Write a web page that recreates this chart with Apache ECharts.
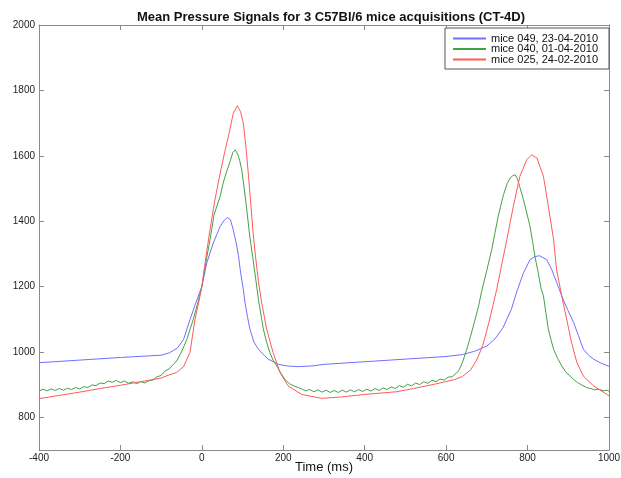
<!DOCTYPE html>
<html>
<head>
<meta charset="utf-8">
<script src="https://cdn.jsdelivr.net/npm/echarts@6/dist/echarts.min.js"></script>
<style>
html,body{margin:0;padding:0;background:#fff;}
#chart{width:621px;height:478px;}
</style>
</head>
<body>
<div id="chart"></div>
<script>
var titleText = 'Mean Pressure Signals for 3 C57Bl/6 mice acquisitions (CT-4D)';
var xName = 'Time (ms)';
var seriesNames = ['mice 049, 23-04-2010', 'mice 040, 01-04-2010', 'mice 025, 24-02-2010'];
var yTicks = [800, 1000, 1200, 1400, 1600, 1800, 2000];

var blueT = [-400,-300,-200,-100,-80,-60,-45,-29,-15,0,12,28,45,55,63,70,77,84,90,94,102,106,112,118,128,139,150,163,188,210,237,270,300,350,400,450,500,550,600,640,670,700,720,740,760,775,790,806,818,830,847,859,871,884,898,913,925,937,950,962,980,1000];
var blueV = [967,975,983,990,997,1012,1038,1099,1150,1200,1272,1333,1384,1403,1411,1405,1374,1335,1295,1253,1190,1151,1108,1070,1030,1008,993,978,962,957,955,957,962,966,970,974,978,982,986,992,1002,1018,1040,1075,1130,1190,1242,1282,1292,1294,1282,1253,1214,1171,1130,1090,1050,1008,990,978,966,956];

var greenT = [-400,-390,-380,-370,-360,-350,-340,-330,-320,-310,-300,-290,-280,-270,-260,-250,-240,-230,-220,-210,-200,-190,-180,-170,-160,-150,-140,-130,-120,-110,-100,-90,-80,-70,-62,-50,-37,-21,-10,0,10,20,30,45,53,61,70,76,82,88,93,98,108,118,125,131,139,151,159,167,175,184,194,204,215,226,237,245,255,265,275,285,295,305,315,325,335,345,355,365,375,385,395,405,415,425,435,445,455,465,475,485,495,505,515,525,535,545,555,565,575,585,595,605,615,625,632,640,650,660,670,680,687,700,712,720,728,735,741,750,757,763,769,775,782,790,798,806,812,818,825,833,839,845,851,858,864,874,884,894,904,913,923,933,945,955,965,975,986,995,1000];
var greenV = [880,886,881,887,882,888,883,889,885,891,887,894,891,899,897,905,903,911,907,913,906,911,904,909,903,909,905,912,914,924,928,942,948,962,972,1000,1038,1100,1150,1200,1275,1343,1420,1476,1520,1552,1585,1610,1618,1605,1585,1557,1460,1350,1290,1235,1160,1070,1030,998,975,957,935,916,903,896,891,887,881,885,878,884,877,883,876,882,876,883,877,884,878,885,879,886,880,888,882,890,885,893,888,897,892,901,896,905,900,909,904,913,909,917,914,923,924,935,945,968,1005,1048,1094,1142,1185,1250,1313,1365,1415,1452,1481,1515,1532,1538,1542,1530,1500,1465,1425,1384,1340,1292,1250,1195,1171,1120,1070,1035,1008,980,957,938,927,916,906,899,891,888,884,886,881,883,880];

var redT = [-400,-350,-300,-250,-200,-150,-100,-80,-62,-45,-29,-17,-8,0,10,20,32,45,55,65,77,87,95,102,108,114,120,126,132,139,147,159,175,192,212,245,294,340,400,477,520,574,620,640,660,675,690,705,724,737,749,765,781,798,810,823,839,851,864,871,884,896,908,921,937,962,995,1000];
var redV = [857,867,877,888,898,909,920,930,937,955,999,1099,1150,1200,1290,1374,1465,1547,1605,1658,1729,1753,1735,1699,1630,1547,1455,1363,1290,1215,1150,1070,998,937,896,870,858,862,870,878,888,902,915,925,945,975,1020,1090,1190,1270,1343,1445,1537,1588,1603,1593,1537,1445,1343,1253,1171,1100,1029,968,926,896,870,866];

function pairs(t, v) { var out = []; for (var i = 0; i < t.length; i++) out.push([t[i], v[i]]); return out; }
function plain(v) { return String(v); }

var font = 'Liberation Sans, Arial, Helvetica, sans-serif';
var axisColor = '#8a8a8a';

var chart = echarts.init(document.getElementById('chart'), null, {renderer: 'canvas'});
var option = {
  animation: false,
  backgroundColor: '#fff',
  title: {
    text: titleText, left: 326, top: 6, textAlign: 'center',
    textStyle: {fontFamily: font, fontSize: 13, fontWeight: 'bold', color: '#111'}
  },
  grid: {left: 39, right: 12, top: 25, bottom: 28, containLabel: false, outerBoundsMode: 'none'},
  legend: {
    data: seriesNames, orient: 'vertical', right: 12, top: 28,
    backgroundColor: '#fff', borderColor: '#555', borderWidth: 1, borderRadius: 0,
    padding: [5, 11, 4, 7], itemGap: -0.5, itemWidth: 33, itemHeight: 10,
    itemStyle: {opacity: 0},
    textStyle: {fontFamily: font, fontSize: 11, lineHeight: 10, color: '#111'}
  },
  xAxis: [{
    type: 'value', min: -400, max: 1000, interval: 200, position: 'bottom',
    name: xName, nameLocation: 'middle', nameGap: 11, nameMoveOverlap: false,
    nameTextStyle: {fontFamily: font, fontSize: 13, color: '#111', verticalAlign: 'top'},
    axisLine: {show: true, onZero: false, lineStyle: {color: axisColor, width: 1}},
    axisTick: {show: true, inside: true, length: 5, lineStyle: {color: axisColor}},
    axisLabel: {fontFamily: font, fontSize: 10, color: '#222', margin: 3, formatter: plain},
    splitLine: {show: false}
  }, {
    type: 'value', min: -400, max: 1000, interval: 200, position: 'top',
    axisLine: {show: true, onZero: false, lineStyle: {color: axisColor, width: 1}},
    axisTick: {show: true, inside: true, length: 5, lineStyle: {color: axisColor}},
    axisLabel: {show: false}, splitLine: {show: false}
  }],
  yAxis: [{
    type: 'value', min: 700, max: 2000, position: 'left',
    axisLine: {show: true, onZero: false, lineStyle: {color: axisColor, width: 1}},
    axisTick: {show: true, inside: true, length: 5, lineStyle: {color: axisColor}, customValues: yTicks},
    axisLabel: {fontFamily: font, fontSize: 10, color: '#222', margin: 4, customValues: yTicks, formatter: plain},
    splitLine: {show: false}
  }, {
    type: 'value', min: 700, max: 2000, position: 'right',
    axisLine: {show: true, onZero: false, lineStyle: {color: axisColor, width: 1}},
    axisTick: {show: true, inside: true, length: 5, lineStyle: {color: axisColor}, customValues: yTicks},
    axisLabel: {show: false, customValues: yTicks},
    splitLine: {show: false}
  }],
  series: [
    {name: seriesNames[0], type: 'line', data: pairs(blueT, blueV), symbol: 'none', smooth: false,
     lineStyle: {color: '#6f6fff', width: 1}, itemStyle: {color: '#6f6fff'}},
    {name: seriesNames[1], type: 'line', data: pairs(greenT, greenV), symbol: 'none', smooth: false,
     lineStyle: {color: '#45a045', width: 1}, itemStyle: {color: '#45a045'}},
    {name: seriesNames[2], type: 'line', data: pairs(redT, redV), symbol: 'none', smooth: false,
     lineStyle: {color: '#ff5a5a', width: 1}, itemStyle: {color: '#ff5a5a'}}
  ]
};
chart.setOption(option);
</script>
</body>
</html>
